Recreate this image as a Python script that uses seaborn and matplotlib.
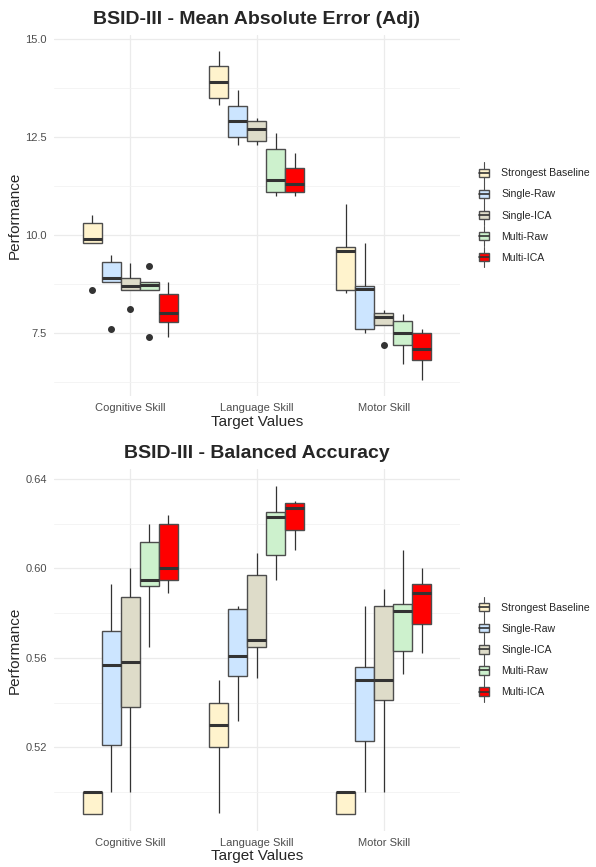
import pandas as pd
import matplotlib
matplotlib.use('Agg')
import matplotlib.pyplot as plt
import seaborn as sns
from matplotlib.legend_handler import HandlerBase
from matplotlib.patches import Rectangle
from matplotlib.lines import Line2D
from matplotlib.ticker import AutoMinorLocator

methods = ['Strongest Baseline', 'Single-Raw', 'Single-ICA', 'Multi-Raw', 'Multi-ICA']
skills = ['Cognitive Skill', 'Language Skill', 'Motor Skill']
colors = ['#FFF3CD', '#CCE5FF', '#DEDCC9', '#CDF1CD', '#FF0000']

# Mean absolute error (adj), one list of runs per method
mae_cognitive = [
    [8.6, 9.8, 9.8, 9.85, 9.9, 10.1, 10.3, 10.4, 10.5],
    [7.6, 8.79, 8.79, 8.85, 8.89, 9.1, 9.3, 9.4, 9.49],
    [8.1, 8.6, 8.6, 8.65, 8.7, 8.8, 8.89, 9.0, 9.29],
    [7.41, 8.6, 8.6, 8.65, 8.72, 8.75, 8.8, 8.8, 9.2],
    [7.41, 7.79, 8.0, 8.49, 8.79],
]
mae_language = [
    [13.31, 13.49, 13.9, 14.3, 14.69],
    [12.3, 12.49, 12.9, 13.3, 13.69],
    [12.3, 12.39, 12.7, 12.9, 12.99],
    [11.0, 11.1, 11.4, 12.2, 12.59],
    [11.0, 11.1, 11.29, 11.7, 12.09],
]
mae_motor = [
    [8.51, 8.6, 9.6, 9.7, 10.79],
    [7.5, 7.6, 8.63, 8.7, 9.8],
    [7.2, 7.7, 7.7, 7.8, 7.9, 7.95, 8.0, 8.05, 8.09],
    [6.71, 7.2, 7.5, 7.8, 7.99],
    [6.3, 6.8, 7.1, 7.5, 7.59],
]

# Balanced accuracy, one list of runs per method
bacc_cognitive = [
    [0.49, 0.49, 0.50, 0.50, 0.50],
    [0.50, 0.521, 0.557, 0.572, 0.593],
    [0.50, 0.538, 0.558, 0.587, 0.60],
    [0.565, 0.592, 0.595, 0.612, 0.62],
    [0.589, 0.595, 0.60, 0.62, 0.624],
]
bacc_language = [
    [0.4905, 0.52, 0.53, 0.54, 0.55],
    [0.532, 0.552, 0.561, 0.582, 0.583],
    [0.551, 0.565, 0.568, 0.597, 0.607],
    [0.595, 0.606, 0.623, 0.625, 0.637],
    [0.608, 0.617, 0.627, 0.629, 0.630],
]
bacc_motor = [
    [0.49, 0.49, 0.50, 0.50, 0.50],
    [0.50, 0.523, 0.55, 0.556, 0.583],
    [0.50, 0.541, 0.55, 0.583, 0.591],
    [0.553, 0.563, 0.581, 0.584, 0.608],
    [0.562, 0.575, 0.589, 0.593, 0.600],
]

mae_ticks = [7.5, 10.0, 12.5, 15.0]
bacc_ticks = [0.52, 0.56, 0.60, 0.64]


def to_long(per_skill):
    rows = []
    for skill, groups in zip(skills, per_skill):
        for method, vals in zip(methods, groups):
            for v in vals:
                rows.append((skill, method, v))
    return pd.DataFrame(rows, columns=['Target', 'Method', 'Performance'])


class HandlerBox(HandlerBase):
    # ggplot-like boxplot legend key
    def create_artists(self, legend, orig_handle, xdescent, ydescent,
                       width, height, fontsize, trans):
        cx = width / 2 - xdescent
        cy = height / 2 - ydescent
        w = 7.5
        h = 6.0
        whisk = Line2D([cx, cx], [cy - 7.5, cy + 7.5],
                       color='#4D4D4D', lw=0.8, transform=trans)
        box = Rectangle((cx - w / 2, cy - h / 2), w, h,
                        facecolor=orig_handle.get_facecolor(),
                        edgecolor='#4D4D4D', lw=1.0, transform=trans)
        med = Line2D([cx - w / 2, cx + w / 2], [cy, cy],
                     color='#333333', lw=1.2, transform=trans)
        return [whisk, box, med]


sns.set_style('white')
plt.rcParams['font.family'] = ['Liberation Sans', 'DejaVu Sans']

fig = plt.figure(figsize=(5.96, 8.67), dpi=100)
ax_top = fig.add_axes([0.0906, 0.5427, 0.681, 0.4173])
ax_bot = fig.add_axes([0.0906, 0.0415, 0.681, 0.4175])

panels = [
    (ax_top, to_long([mae_cognitive, mae_language, mae_motor]),
     'BSID-III - Mean Absolute Error (Adj)', mae_ticks, (5.88, 15.11), '{:.1f}'),
    (ax_bot, to_long([bacc_cognitive, bacc_language, bacc_motor]),
     'BSID-III - Balanced Accuracy', bacc_ticks, (0.4826, 0.6444), '{:.2f}'),
]

for ax, df, title, ticks, ylim, fmt in panels:
    sns.boxplot(data=df, x='Target', y='Performance', hue='Method',
                order=skills, hue_order=methods, palette=colors, saturation=1,
                width=0.75, gap=0, linecolor='#4D4D4D', linewidth=1.0,
                showcaps=False,
                medianprops=dict(color='#333333', linewidth=2.2),
                whiskerprops=dict(color='#333333', linewidth=0.9),
                flierprops=dict(marker='o', markerfacecolor='#333333',
                                markeredgecolor='#333333', markersize=4),
                ax=ax, legend=False, zorder=3)
    ax.set_xlim(-0.6, 2.6)
    ax.set_ylim(*ylim)
    ax.set_yticks(ticks)
    ax.set_yticklabels([fmt.format(t) for t in ticks])
    ax.yaxis.set_minor_locator(AutoMinorLocator(2))
    ax.grid(True, which='major', color='#EBEBEB', linewidth=0.9, zorder=0)
    ax.grid(True, which='minor', axis='y', color='#F2F2F2', linewidth=0.6, zorder=0)
    ax.set_axisbelow(True)
    for s in ax.spines.values():
        s.set_visible(False)
    ax.tick_params(axis='both', which='both', length=0, labelsize=8, labelcolor='#4D4D4D')
    ax.tick_params(axis='x', pad=5)
    ax.tick_params(axis='y', pad=5)
    ax.set_title(title, fontsize=14, fontweight='bold', pad=8)
    ax.set_xlabel('Target Values', fontsize=11, labelpad=1)
    ax.set_ylabel('Performance', fontsize=11, labelpad=3)

    handles = [Rectangle((0, 0), 1, 1, facecolor=c, edgecolor='#333333') for c in colors]
    ax.legend(handles, methods, loc='center left', bbox_to_anchor=(1.04, 0.5),
              frameon=False, fontsize=7.6, handler_map={Rectangle: HandlerBox()},
              handlelength=1.5, handletextpad=0.9, labelspacing=1.05,
              borderaxespad=0, borderpad=0)

fig.savefig('out.png', dpi=100)
